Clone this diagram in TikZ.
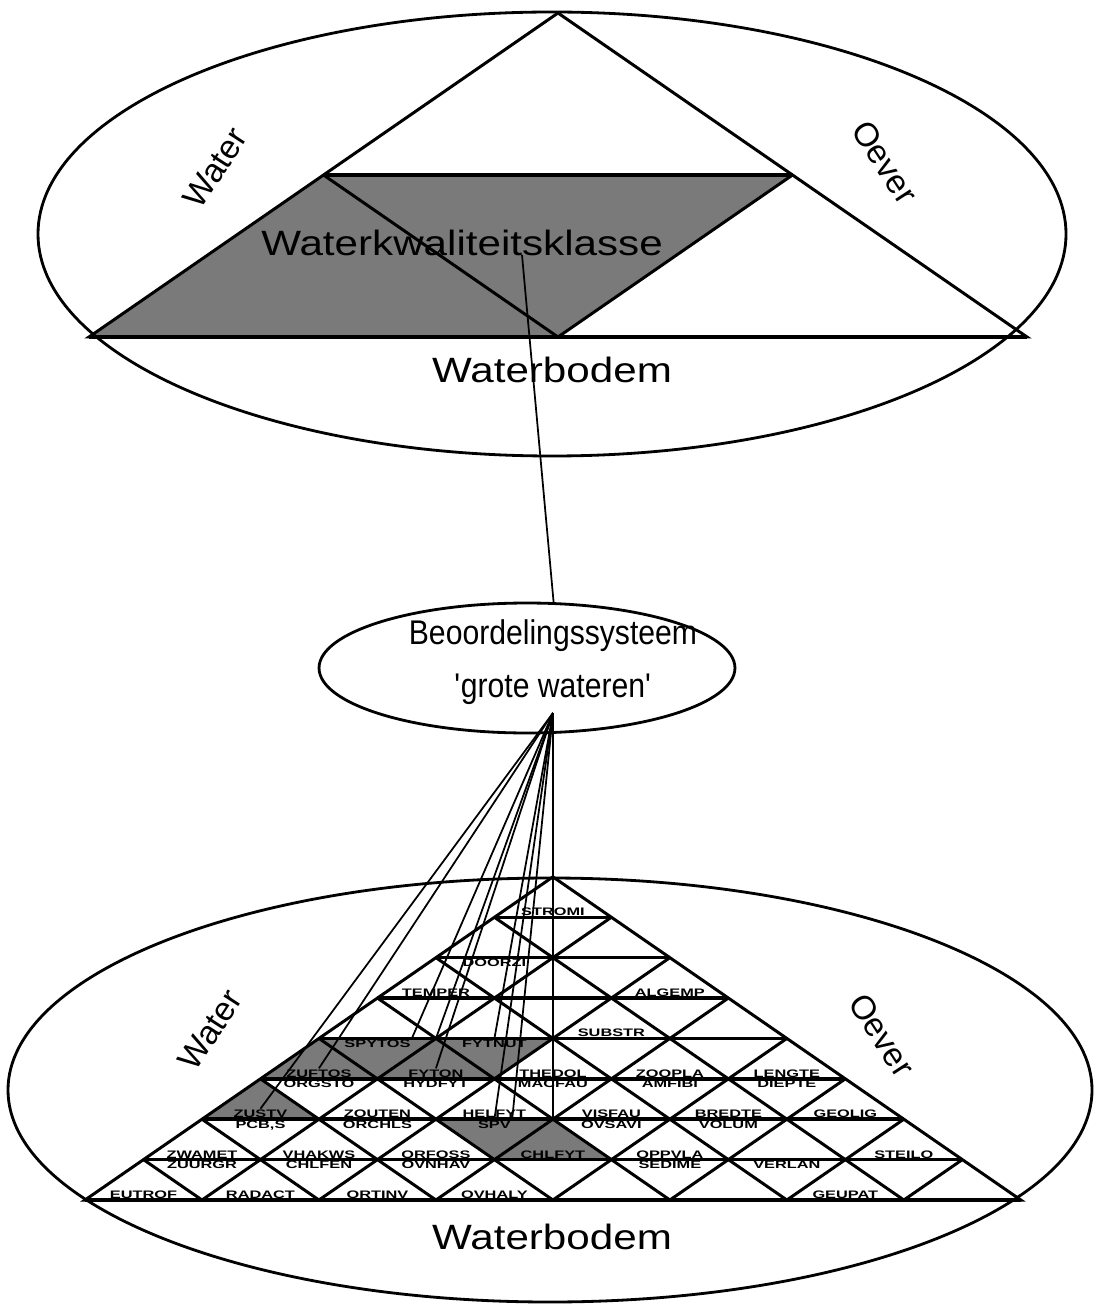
\documentclass[tikz,border=0pt]{standalone}
\usepackage{fontspec}
\setmainfont{Liberation Sans}
\newfontfamily\widefont[FakeStretch=1.2]{Liberation Sans}
\newfontfamily\narrowfont[FakeStretch=0.88]{Liberation Sans}
\newfontfamily\cellfont[FakeStretch=1.5]{Liberation Sans}
\usetikzlibrary{shapes.geometric}

\tikzset{
  rim/.style={line width=1.6pt},
  grid/.style={line width=1.7pt},
  hgrid/.style={line width=2pt},
  shade/.style={fill=black!52},
  link/.style={line width=1pt},
  cell/.style={font=\cellfont\bfseries\fontsize{6.2}{7}\selectfont, inner sep=0.6pt},
  side/.style={font=\fontsize{19}{22}\selectfont},
  bottomtxt/.style={font=\widefont\fontsize{20}{24}\selectfont},
}

\begin{document}
\begin{tikzpicture}[x=0.02cm, y=-0.02cm]
  \useasboundingbox (0,0) rectangle (1103,1310);
  % ---- Upper ellipse ----
  \begin{scope}
    \fill[shade] (89,337) -- (323.5,175) -- (792.5,175) -- (558,337) -- cycle;
    \draw[rim] (552,234) ellipse [x radius=514, y radius=222];
    \draw[grid] (558,13) -- (89,337) -- (1027,337) -- cycle;
    \draw[hgrid] (89,337) -- (1027,337) (323.5,175) -- (792.5,175);
    \draw[grid] (323.5,175) -- (558,337) -- (792.5,175);
    \node[side, rotate=57] (water1) at (215,168) {Water};
    \node[side, rotate=-57] (oever1) at (885,162) {Oever};
    \node[bottomtxt] (bodem1) at (552,370) {Waterbodem};
    \node[bottomtxt] (wkk) at (462,243) {Waterkwaliteitsklasse};
  \end{scope}
  % ---- Middle ellipse ----
  \node[draw, rim, ellipse, minimum width=8.32cm, minimum height=2.6cm] (beo) at (527,668) {};
  \node[align=center, font=\narrowfont\fontsize{19.5}{30}\selectfont] (beotxt) at (553,662)
        {Beoordelingssysteem\\\textquotesingle grote wateren\textquotesingle};
  \coordinate (kwfoot) at (522,255);
  \coordinate (fan) at (553,713);
  \draw[link] (kwfoot) -- (beo.68);
  % ---- Lower ellipse ----
  \draw[rim] (550,1090) ellipse [x radius=542, y radius=212];
  \node[side, rotate=57] (water2) at (210,1030) {Water};
  \node[side, rotate=-57] (oever2) at (882,1035) {Oever};
  \node[bottomtxt] (bodem2) at (552,1237) {Waterbodem};
  \begin{scope}[shift={(85,1200)}, x={(2.34cm,0cm)}, y={(1.17cm,0.808cm)}]
    \fill[shade] (0,3) -- (2,3) -- (2,4) -- (0,4) -- cycle;
    \fill[shade] (0,2) -- (1,2) -- (0,3) -- cycle;
    \fill[shade] (2,2) -- (3,2) -- (4,1) -- (3,1) -- cycle;
    \draw[grid] (0,0) -- (8,0) -- (0,8) -- cycle;
    \foreach \r in {0,...,7}
      \draw[hgrid] (0,\r) -- (8-\r,\r);
    \foreach \i in {1,...,7} {
      \draw[grid] (\i,0) -- (0,\i);
      \draw[grid] (\i,0) -- (\i,8-\i);
    }
    \coordinate (vtop) at (3,2);
    \coordinate (fyapex) at (1,4);
    % labels above a line
    \foreach \i/\r/\n/\t in {0/0/eutrof/EUTROF, 1/0/radact/RADACT, 2/0/ortinv/ORTINV,
        3/0/ovhaly/OVHALY, 6/0/geupat/GEUPAT,
        0/1/zwamet/ZWAMET, 1/1/vhakws/VHAKWS, 2/1/orfoss/ORFOSS, 3/1/chlfyt/CHLFYT,
        4/1/oppvla/OPPVLA, 6/1/steilo/STEILO,
        0/2/zustv/ZUSTV, 1/2/zouten/ZOUTEN, 2/2/helfyt/HELFYT, 3/2/visfau/VISFAU,
        4/2/bredte/BREDTE, 5/2/geolig/GEOLIG,
        0/3/zuftos/ZUFTOS, 1/3/fyton/FYTON, 2/3/thedol/THEDOL, 3/3/zoopla/ZOOPLA,
        4/3/lengte/LENGTE,
        2/4/substr/SUBSTR, 0/5/temper/TEMPER, 2/5/algemp/ALGEMP, 0/7/stromi/STROMI}
      \node[cell, above] (\n) at (\i+0.5,\r) {\t};
    % labels below a line
    \foreach \i/\r/\n/\t in {0/1/zuurgr/ZUURGR, 1/1/chlfen/CHLFEN, 2/1/ovnhav/OVNHAV,
        4/1/sedime/SEDIME, 5/1/verlan/VERLAN,
        0/2/pcbs/{PCB,S}, 1/2/orchls/ORCHLS, 2/2/spv/SPV, 3/2/ovsavi/OVSAVI,
        4/2/volum/VOLUM,
        0/3/orgsto/ORGSTO, 1/3/hydfyt/HYDFYT, 2/3/macfau/MACFAU, 3/3/amfibi/AMFIBI,
        4/3/diepte/DIEPTE,
        0/4/spytos/SPYTOS, 1/4/fytnut/FYTNUT, 0/6/doorzi/DOORZI}
      \node[cell, below] (\n) at (\i+0.5,\r) {\t};
  \end{scope}
  % ---- Fan of links ----
  \foreach \t in {zustv.north, zuftos.north, spytos.north east, fyapex, fyton.north,
      fytnut.north, spv.north, spv.north east, vtop}
    \draw[link] (fan) -- (\t);
\end{tikzpicture}
\end{document}
